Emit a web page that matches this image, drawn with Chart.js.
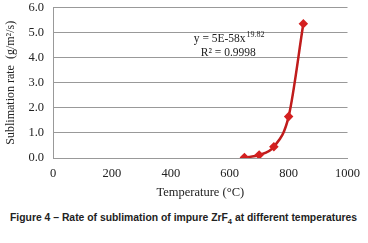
<!DOCTYPE html>
<html>
<head>
<meta charset="utf-8">
<script src="https://cdn.jsdelivr.net/npm/chart.js@4/dist/chart.umd.min.js"></script>
<style>
  body { margin: 0; background: #fff; width: 368px; height: 243px; overflow: hidden; }
  #wrap { position: absolute; left: 0; top: -9px; width: 368px; height: 215px; }
  #caption {
    position: absolute; left: 10px; top: 211px;
    font-family: "Liberation Sans", Arial, sans-serif;
    font-weight: bold; font-size: 11px; color: #222; white-space: nowrap;
    transform-origin: 0 0;
  }
</style>
</head>
<body>
<div id="wrap"><canvas id="chart"></canvas></div>
<div id="caption">Figure 4 – Rate of sublimation of impure ZrF<sub style="font-size:8px">4</sub> at different temperatures</div>
<script>
var temperatures = [650, 700, 750, 800, 850];
var rates = [0.02, 0.12, 0.45, 1.65, 5.35];

var xTicks = [0, 200, 400, 600, 800, 1000];
var yTicks = [0, 1, 2, 3, 4, 5, 6];

var fitLines = ["y = 5E-58x", "R\u00b2 = 0.9998"];
var fitExponent = "19.82";

var serif = "'Liberation Serif', 'Times New Roman', serif";

// squeeze the caption to the narrow width used in the print
var cap = document.getElementById("caption");
cap.style.transform = "scaleX(" + (347 / cap.scrollWidth) + ")";

// draws the trendline equation text inside the plot
var fitLabel = {
  id: "fitLabel",
  afterDraw: function (chart) {
    var ctx = chart.ctx;
    var x = chart.scales.x.getPixelForValue(478);
    var y1 = chart.scales.y.getPixelForValue(4.76);
    var y2 = chart.scales.y.getPixelForValue(4.2);
    ctx.save();
    ctx.fillStyle = "#222";
    ctx.textBaseline = "middle";
    ctx.font = "11.5px " + serif;
    ctx.fillText(fitLines[0], x, y1);
    var w = ctx.measureText(fitLines[0]).width;
    ctx.font = "8px " + serif;
    ctx.fillText(fitExponent, x + w + 1, y1 - 4);
    ctx.font = "11.5px " + serif;
    ctx.fillText(fitLines[1], x + 7, y2);
    ctx.restore();
  }
};

new Chart(document.getElementById("chart"), {
  type: "scatter",
  data: {
    datasets: [{
      data: temperatures.map(function (t, i) { return { x: t, y: rates[i] }; }),
      showLine: true,
      cubicInterpolationMode: "monotone",
      borderColor: "#c01c1c",
      borderWidth: 2.5,
      pointStyle: "rectRot",
      pointRadius: 3,
      pointBackgroundColor: "#d42020",
      pointBorderColor: "#d42020"
    }, {
      data: temperatures.map(function (t, i) { return { x: t, y: rates[i] }; }),
      showLine: true,
      cubicInterpolationMode: "monotone",
      borderColor: "#4a0a0a",
      borderWidth: 1,
      pointRadius: 0
    }]
  },
  options: {
    responsive: true,
    maintainAspectRatio: false,
    animation: false,
    layout: { padding: { left: 0, right: 4, top: 0, bottom: 6 } },
    plugins: { legend: { display: false }, tooltip: { enabled: false } },
    scales: {
      x: {
        min: 0, max: 1000,
        afterBuildTicks: function (axis) { axis.ticks = xTicks.map(function (v) { return { value: v }; }); },
        grid: { display: false, drawTicks: false },
        border: { display: true, color: "#999" },
        ticks: { color: "#222", font: { family: serif, size: 12.5 }, padding: 8, maxRotation: 0,
          callback: function (v) { return String(v); } },
        title: { display: true, text: "Temperature (\u00b0C)", color: "#222", font: { family: serif, size: 12.5 }, padding: { top: -4, bottom: 0 } }
      },
      y: {
        min: 0, max: 6,
        afterBuildTicks: function (axis) { axis.ticks = yTicks.map(function (v) { return { value: v }; }); },
        grid: { color: "#999", drawTicks: false },
        border: { display: true, color: "#999" },
        ticks: { color: "#222", font: { family: serif, size: 12.5 }, padding: 9, callback: function (v) { return v.toFixed(1); } },
        title: { display: true, text: "Sublimation rate  (g/m\u00b2/s)", color: "#222", font: { family: serif, size: 12 }, padding: { bottom: 1 } }
      }
    }
  },
  plugins: [fitLabel]
});
</script>
</body>
</html>
